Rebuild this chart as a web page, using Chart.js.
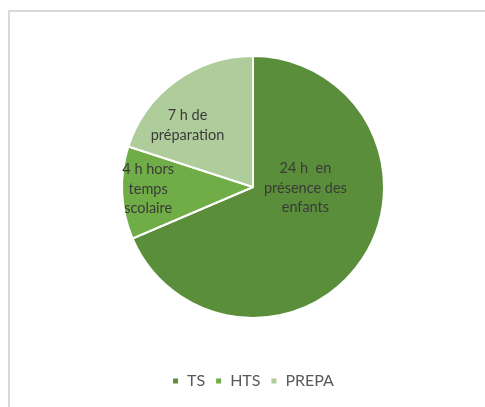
<!DOCTYPE html>
<html>
<head>
<meta charset="utf-8">
<script src="https://cdn.jsdelivr.net/npm/chart.js@4"></script>
<style>
    html, body { margin: 0; padding: 0; background: #fff; overflow: hidden; }
    #wrap { position: relative; width: 485px; height: 407px; }
    #frame {
        position: absolute; left: 8px; top: 10px; width: 600px; height: 500px;
        border-left: 2px solid #d9d9d9; border-top: 2px solid #d9d9d9;
    }
    #chart { position: absolute; left: 0; top: 0; }
</style>
</head>
<body>
<div id="wrap">
    <div id="frame"></div>
    <canvas id="chart" width="485" height="407"></canvas>
</div>
<script>
const categories = ['TS', 'HTS', 'PREPA'];
const hours = [24, 4, 7];
const sliceLabels = [
    ['24 h  en', 'présence des', 'enfants'],
    ['4 h hors', 'temps', 'scolaire'],
    ['7 h de', 'préparation']
];

const sliceColors = ['#5a8e3a', '#70ad47', '#afcd9b'];
// label anchor as fraction of the radius, from the pie centre
const labelAnchors = [[0.40, 0.01], [-0.80, 0.015], [-0.50, -0.47]];

const sliceLabelPlugin = {
    id: 'sliceLabels',
    afterDatasetsDraw(chart) {
        const ctx = chart.ctx;
        const meta = chart.getDatasetMeta(0);
        ctx.save();
        ctx.font = '14.5px Lato, "Open Sans", sans-serif';
        ctx.fillStyle = '#3a3a3a';
        ctx.textAlign = 'center';
        ctx.textBaseline = 'middle';
        meta.data.forEach((arc, i) => {
            const r = arc.outerRadius;
            const cx = arc.x + labelAnchors[i][0] * r;
            const cy = arc.y + labelAnchors[i][1] * r;
            const lines = sliceLabels[i];
            const lh = 19.5;
            lines.forEach((line, j) => {
                ctx.fillText(line, cx, cy + (j - (lines.length - 1) / 2) * lh);
            });
        });
        ctx.restore();
    }
};

new Chart(document.getElementById('chart'), {
    type: 'pie',
    data: {
        labels: categories,
        datasets: [{
            data: hours,
            backgroundColor: sliceColors,
            borderColor: '#ffffff',
            borderWidth: 2
        }]
    },
    options: {
        responsive: false,
        animation: false,
        radius: 131,
        layout: { padding: { top: 11, left: 21, right: 0, bottom: 8 } },
        plugins: {
            tooltip: { enabled: false },
            legend: {
                position: 'bottom',
                labels: {
                    boxWidth: 7,
                    boxHeight: 7,
                    padding: 10,
                    color: '#595959',
                    font: { family: 'Lato, "Open Sans", sans-serif', size: 16 }
                }
            }
        }
    },
    plugins: [sliceLabelPlugin]
});
</script>
</body>
</html>
